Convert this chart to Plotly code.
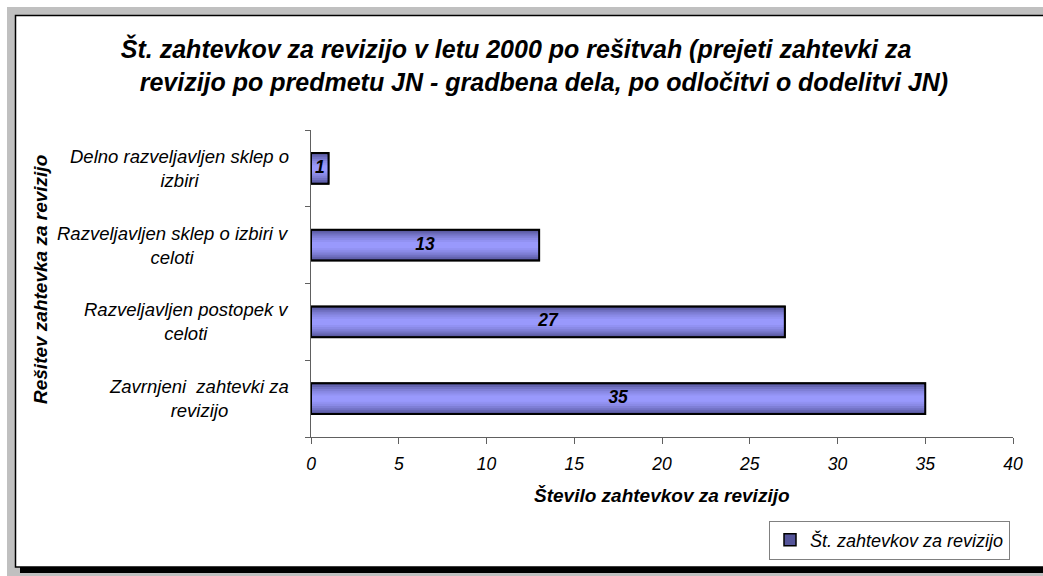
import plotly.graph_objects as go

categories = [
    "Delno razveljavljen sklep o<br>izbiri",
    "Razveljavljen sklep o izbiri v<br>celoti",
    "Razveljavljen postopek v<br>celoti",
    "Zavrnjeni  zahtevki za<br>revizijo",
]
values = [1, 13, 27, 35]
series_name = "Št. zahtevkov za revizijo"
x_ticks = [0, 5, 10, 15, 20, 25, 30, 35, 40]
title_lines = [
    "Št. zahtevkov za revizijo v letu 2000 po rešitvah (prejeti zahtevki za",
    "revizijo po predmetu JN - gradbena dela, po odločitvi o dodelitvi JN)",
]

FONT = "Arial, Liberation Sans, sans-serif"
W, H = 1043, 576
# plot rectangle in screen pixels
SX0, SX1, SY0, SY1 = 311, 1013, 130, 437
L, R, T, B = SX0, W - SX1, SY0, H - SY1
PW, PH = W - L - R, H - T - B

def px_x(sx):
    return (sx - SX0) / PW

def px_y(sy):
    return (SY1 - sy) / PH

fig = go.Figure()

# gradient layers (dark edges, light centre)
bar_w = 0.4
layers = [
    (1.00, "#55559a"),
    (0.88, "#6464b0"),
    (0.76, "#7272c4"),
    (0.62, "#7f7fd6"),
    (0.48, "#8a8ae6"),
    (0.34, "#9292f2"),
    (0.20, "#9999fc"),
]
for i, (f, c) in enumerate(layers):
    fig.add_trace(go.Bar(
        x=values, y=categories, orientation="h",
        width=bar_w * f,
        marker=dict(color=c,
                    line=dict(width=1.5, color="black") if i == 0 else dict(width=0)),
        name="<i>" + series_name + "</i>", showlegend=(i == 0),
        hoverinfo="skip",
    ))
# outline on top
fig.add_trace(go.Bar(
    x=values, y=categories, orientation="h", width=bar_w,
    marker=dict(color="rgba(0,0,0,0)", line=dict(width=2, color="black")),
    showlegend=False, hoverinfo="skip",
))
# value labels
fig.add_trace(go.Scatter(
    x=[v / 2 for v in values], y=categories, mode="text",
    text=["<b><i>%d</i></b>" % v for v in values],
    textfont=dict(family=FONT, size=17.5, color="black"),
    showlegend=False, hoverinfo="skip",
))

shapes = [
    dict(type="rect", xref="paper", yref="paper", layer="below",
         x0=px_x(7), x1=px_x(1080), y0=px_y(7), y1=px_y(600),
         fillcolor="#c0c0c0", line=dict(width=0)),
    dict(type="rect", xref="paper", yref="paper", layer="below",
         x0=px_x(20), x1=px_x(1080), y0=px_y(566), y1=px_y(573),
         fillcolor="black", line=dict(width=0)),
    dict(type="rect", xref="paper", yref="paper", layer="below",
         x0=px_x(15.5), x1=px_x(1080), y0=px_y(15.5), y1=px_y(567),
         fillcolor="white", line=dict(width=1.5, color="black")),
]

annotations = []
for c in categories:
    annotations.append(dict(
        x=px_x(291), xref="paper", y=c, yref="y",
        text="<i>" + c + "</i>", showarrow=False, xanchor="right", yanchor="middle", align="center",
        font=dict(family=FONT, size=18.5, color="black"),
    ))
annotations.append(dict(
    x=px_x(40), xref="paper", y=px_y(280), yref="paper",
    text="<b><i>Rešitev zahtevka za revizijo</i></b>", textangle=-90, showarrow=False,
    xanchor="center", yanchor="middle",
    font=dict(family=FONT, size=19, color="black"),
))
annotations.append(dict(
    x=px_x(662), xref="paper", y=px_y(495), yref="paper",
    text="<b><i>Število zahtevkov za revizijo</i></b>", showarrow=False,
    xanchor="center", yanchor="middle",
    font=dict(family=FONT, size=19, color="black"),
))

pad = "\u00a0" * 4
fig.update_layout(
    width=W, height=H,
    margin=dict(l=L, r=R, t=T, b=B, pad=0, autoexpand=False),
    paper_bgcolor="white", plot_bgcolor="white",
    barmode="overlay",
    title=dict(
        text="<b><i>" + title_lines[0] + pad + "<br>" + pad + title_lines[1] + "</i></b>",
        x=530 / W, xref="container", xanchor="center",
        y=1 - 58 / H, yref="container", yanchor="middle",
        font=dict(family=FONT, size=25, color="black"),
    ),
    xaxis=dict(
        range=[0, 40], tickvals=x_ticks, ticktext=["<i>%d</i>" % t for t in x_ticks],
        ticks="outside", ticklen=6, tickcolor="#606060", ticklabelstandoff=5,
        showline=True, linecolor="#606060", linewidth=1, showgrid=False, zeroline=False,
        tickfont=dict(family=FONT, size=17.5, color="black"),
    ),
    yaxis=dict(
        categoryorder="array", categoryarray=categories[::-1],
        showticklabels=False, ticks="outside", ticklen=5, tickcolor="#606060",
        tickson="boundaries",
        showline=True, linecolor="#606060", linewidth=1, showgrid=False, zeroline=False,
    ),
    legend=dict(
        xref="container", yref="container",
        x=1010 / W, xanchor="right", y=1 - 540 / H, yanchor="middle",
        bgcolor="white", bordercolor="#808080", borderwidth=1,
        font=dict(family=FONT, size=18, color="black"),
    ),
    shapes=shapes, annotations=annotations,
    showlegend=True,
)

fig.write_html(
    "out.html",
    config={"displayModeBar": False},
    post_script="document.body.style.margin='0';document.body.style.overflow='hidden';",
)
